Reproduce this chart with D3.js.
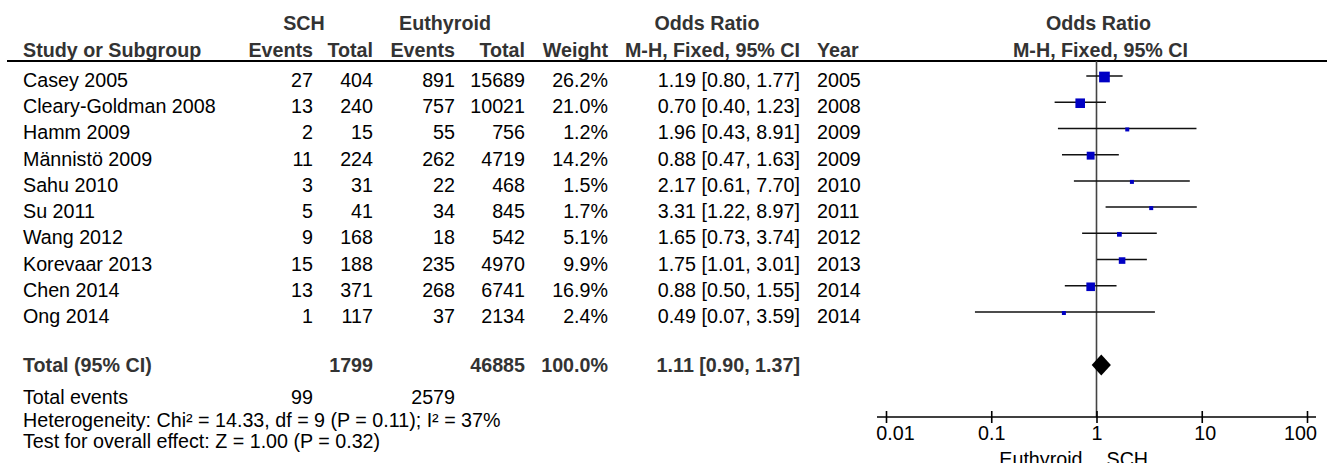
<!DOCTYPE html>
<html lang="en">
<head>
    <meta charset="UTF-8">
    <title>Forest Plot - SCH vs Euthyroid</title>
    <style>
        body {
            margin: 0;
            background: #fff;
        }
        svg text {
            font-family: "Liberation Sans", Arial, sans-serif;
            font-size: 19.7px;
            fill: #000;
        }
        svg text.bold {
            font-weight: bold;
            fill: #333;
        }
    </style>
</head>
<body>

<div id="chart"></div>

<script src="https://d3js.org/d3.v7.min.js"></script>
<script>
    // study data
    const studies = ["Casey 2005", "Cleary-Goldman 2008", "Hamm 2009", "Männistö 2009", "Sahu 2010",
        "Su 2011", "Wang 2012", "Korevaar 2013", "Chen 2014", "Ong 2014"];
    const schEvents = [27, 13, 2, 11, 3, 5, 9, 15, 13, 1];
    const schTotal = [404, 240, 15, 224, 31, 41, 168, 188, 371, 117];
    const euEvents = [891, 757, 55, 262, 22, 34, 18, 235, 268, 37];
    const euTotal = [15689, 10021, 756, 4719, 468, 845, 542, 4970, 6741, 2134];
    const weights = [26.2, 21.0, 1.2, 14.2, 1.5, 1.7, 5.1, 9.9, 16.9, 2.4];
    const oddsRatio = [1.19, 0.70, 1.96, 0.88, 2.17, 3.31, 1.65, 1.75, 0.88, 0.49];
    const ciLow = [0.80, 0.40, 0.43, 0.47, 0.61, 1.22, 0.73, 1.01, 0.50, 0.07];
    const ciHigh = [1.77, 1.23, 8.91, 1.63, 7.70, 8.97, 3.74, 3.01, 1.55, 3.59];
    const years = [2005, 2008, 2009, 2009, 2010, 2011, 2012, 2013, 2014, 2014];

    // pooled result
    const totalN = [1799, 46885];
    const totalEvents = [99, 2579];
    const totalWeight = 100.0;
    const pooled = [1.11, 0.90, 1.37];  // OR, low, high
    const heterogeneity = "Heterogeneity: Chi² = 14.33, df = 9 (P = 0.11); I² = 37%";
    const overallTest = "Test for overall effect: Z = 1.00 (P = 0.32)";

    const axisTicks = [0.01, 0.1, 1, 10, 100];
    const axisLabels = ["Euthyroid", "SCH"];

    const width = 1327;
    const height = 463;

    const svg = d3.select("#chart")
        .append("svg")
        .attr("width", width)
        .attr("height", height);

    const fmt2 = d3.format(".2f");
    const fmt1 = d3.format(".1f");

    // column right edges (left edge for name and year)
    const col = {
        name: 23,
        schEv: 313,
        schTot: 373,
        euEv: 455,
        euTot: 525,
        weight: 608,
        or: 800,
        year: 817
    };

    const y = d3.scalePoint()
        .domain(studies)
        .range([76, 312]);

    const x = d3.scaleLog()
        .domain([0.01, 100])
        .range([886, 1307]);

    const size = d3.scaleSqrt()
        .domain([0, 100])
        .range([0, 20.9]);

    const headerLineY = 61;
    const totalY = 365;
    const axisY = 417;

    const addText = (g, txt, xx, yy, anchor, cls) => g.append("text")
        .attr("x", xx)
        .attr("y", yy)
        .attr("text-anchor", anchor)
        .attr("class", cls || null)
        .text(txt);

    // header
    const header = svg.append("g");
    addText(header, "SCH", 304, 30, "middle", "bold");
    addText(header, "Euthyroid", 445, 30, "middle", "bold");
    addText(header, "Odds Ratio", 707, 30, "middle", "bold");
    addText(header, "Odds Ratio", x(1) + 2, 30, "middle", "bold");
    addText(header, "Study or Subgroup", col.name, 57, "start", "bold");
    addText(header, "Events", col.schEv, 57, "end", "bold");
    addText(header, "Total", col.schTot, 57, "end", "bold");
    addText(header, "Events", col.euEv, 57, "end", "bold");
    addText(header, "Total", col.euTot, 57, "end", "bold");
    addText(header, "Weight", col.weight, 57, "end", "bold");
    addText(header, "M-H, Fixed, 95% CI", col.or, 57, "end", "bold");
    addText(header, "Year", col.year, 57, "start", "bold");
    addText(header, "M-H, Fixed, 95% CI", x(1) + 4, 57, "middle", "bold");

    svg.append("line")
        .attr("x1", 7)
        .attr("x2", width)
        .attr("y1", headerLineY)
        .attr("y2", headerLineY)
        .attr("stroke", "#000")
        .attr("stroke-width", 2);

    // study rows
    const rows = svg.append("g")
        .selectAll("g")
        .data(studies)
        .enter()
        .append("g")
        .attr("transform", d => `translate(0,${y(d) + 11})`);

    rows.append("text").attr("x", col.name).text(d => d);
    rows.append("text").attr("x", col.schEv).attr("text-anchor", "end").text((d, i) => schEvents[i]);
    rows.append("text").attr("x", col.schTot).attr("text-anchor", "end").text((d, i) => schTotal[i]);
    rows.append("text").attr("x", col.euEv).attr("text-anchor", "end").text((d, i) => euEvents[i]);
    rows.append("text").attr("x", col.euTot).attr("text-anchor", "end").text((d, i) => euTotal[i]);
    rows.append("text").attr("x", col.weight).attr("text-anchor", "end").text((d, i) => fmt1(weights[i]) + "%");
    rows.append("text").attr("x", col.or).attr("text-anchor", "end")
        .text((d, i) => `${fmt2(oddsRatio[i])} [${fmt2(ciLow[i])}, ${fmt2(ciHigh[i])}]`);
    rows.append("text").attr("x", col.year).text((d, i) => years[i]);

    // total row
    const tot = svg.append("g").attr("transform", `translate(0,${totalY + 7})`);
    addText(tot, "Total (95% CI)", col.name, 0, "start", "bold");
    addText(tot, totalN[0], col.schTot, 0, "end", "bold");
    addText(tot, totalN[1], col.euTot, 0, "end", "bold");
    addText(tot, fmt1(totalWeight) + "%", col.weight, 0, "end", "bold");
    addText(tot, `${fmt2(pooled[0])} [${fmt2(pooled[1])}, ${fmt2(pooled[2])}]`, col.or, 0, "end", "bold");

    addText(svg, "Total events", col.name, 404, "start");
    addText(svg, totalEvents[0], col.schEv, 404, "end");
    addText(svg, totalEvents[1], col.euEv, 404, "end");
    addText(svg, heterogeneity, col.name, 427, "start");
    addText(svg, overallTest, col.name, 448, "start");

    // line of no effect
    svg.append("line")
        .attr("x1", x(1))
        .attr("x2", x(1))
        .attr("y1", headerLineY)
        .attr("y2", axisY)
        .attr("stroke", "#444")
        .attr("stroke-width", 1.6);

    // confidence intervals
    svg.append("g")
        .selectAll("line")
        .data(studies)
        .enter()
        .append("line")
        .attr("x1", (d, i) => x(ciLow[i]))
        .attr("x2", (d, i) => x(ciHigh[i]))
        .attr("y1", d => y(d))
        .attr("y2", d => y(d))
        .attr("stroke", "#111")
        .attr("stroke-width", 1.5);

    // weighted squares (min size 4px)
    const side = i => Math.max(4, size(weights[i]));
    svg.append("g")
        .selectAll("rect")
        .data(studies)
        .enter()
        .append("rect")
        .attr("x", (d, i) => x(oddsRatio[i]) - side(i) / 2)
        .attr("y", (d, i) => y(d) + 1 - side(i) / 2)
        .attr("width", (d, i) => side(i))
        .attr("height", (d, i) => side(i))
        .attr("fill", "#0000c4");

    // pooled diamond
    svg.append("path")
        .attr("d", `M${x(pooled[1])},${totalY}L${x(pooled[0])},${totalY - 10.5}L${x(pooled[2])},${totalY}L${x(pooled[0])},${totalY + 10.5}Z`)
        .attr("fill", "#000");

    // axis
    const axis = d3.axisBottom(x)
        .tickValues(axisTicks)
        .tickFormat(d => d)
        .tickSize(6)
        .tickSizeOuter(0);

    const gAxis = svg.append("g")
        .attr("transform", `translate(0,${axisY})`)
        .call(axis);

    gAxis.select(".domain").remove();
    gAxis.append("line")
        .attr("x1", x(0.01) - 9)
        .attr("x2", x(100) + 9)
        .attr("stroke", "#000")
        .attr("stroke-width", 1.6);
    gAxis.selectAll(".tick line")
        .attr("y1", -6)
        .attr("y2", 6)
        .attr("stroke", "#000")
        .attr("stroke-width", 1.6);
    gAxis.selectAll(".tick text")
        .attr("font-size", null)
        .attr("font-family", null)
        .attr("dx", d => d === 0.01 ? 9 : d === 100 ? -7 : d === 10 ? 3 : 0);

    // favours labels
    addText(svg, axisLabels[0], x(1) - 14, 466, "end");
    addText(svg, axisLabels[1], x(1) + 10, 466, "start");
</script>

</body>
</html>
